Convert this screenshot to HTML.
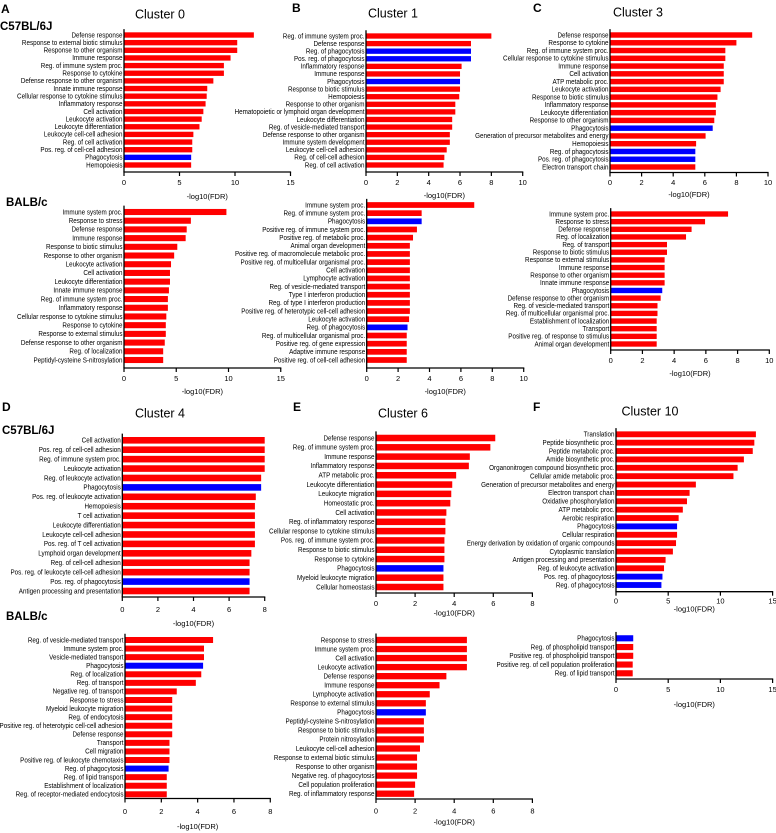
<!DOCTYPE html>
<html><head><meta charset="utf-8">
<style>
html,body{margin:0;padding:0;background:#fff;}
svg{display:block;}
text{font-family:"Liberation Sans Narrow","Liberation Sans",sans-serif;fill:#000;}
.lbl{font-size:7.5px;}
.tick{font-size:7.5px;}
.ttl{font-size:12.5px;font-family:"Liberation Sans",sans-serif;}
.pl{font-size:12px;font-weight:bold;font-family:"Liberation Sans",sans-serif;}
.strain{font-size:11.5px;font-weight:bold;font-family:"Liberation Sans",sans-serif;}
</style></head>
<body>
<svg id="fig" width="776" height="833" viewBox="0 0 776 833" xmlns="http://www.w3.org/2000/svg">
<text class="pl" x="1" y="10" dominant-baseline="middle">A</text>
<text class="ttl" x="160" y="15" text-anchor="middle" dominant-baseline="middle">Cluster 0</text>
<text class="strain" x="0" y="27" dominant-baseline="middle">C57BL/6J</text>
<text class="strain" x="6" y="203" dominant-baseline="middle">BALB/c</text>
<text class="pl" x="292" y="9" dominant-baseline="middle">B</text>
<text class="ttl" x="393" y="14" text-anchor="middle" dominant-baseline="middle">Cluster 1</text>
<text class="pl" x="533" y="9" dominant-baseline="middle">C</text>
<text class="ttl" x="638" y="13" text-anchor="middle" dominant-baseline="middle">Cluster 3</text>
<text class="pl" x="2" y="408" dominant-baseline="middle">D</text>
<text class="ttl" x="160" y="414" text-anchor="middle" dominant-baseline="middle">Cluster 4</text>
<text class="strain" x="2" y="431" dominant-baseline="middle">C57BL/6J</text>
<text class="strain" x="6" y="617" dominant-baseline="middle">BALB/c</text>
<text class="pl" x="293" y="408" dominant-baseline="middle">E</text>
<text class="ttl" x="403" y="414" text-anchor="middle" dominant-baseline="middle">Cluster 6</text>
<text class="pl" x="533" y="408" dominant-baseline="middle">F</text>
<text class="ttl" x="650" y="412" text-anchor="middle" dominant-baseline="middle">Cluster 10</text>
</svg>
<script>
// ---- Data ----
const a1Labels=["Defense response","Response to external biotic stimulus","Response to other organism","Immune response","Reg. of immune system proc.","Response to cytokine","Defense response to other organism","Innate immune response","Cellular response to cytokine stimulus","Inflammatory response","Cell activation","Leukocyte activation","Leukocyte differentiation","Leukocyte cell-cell adhesion","Reg. of cell activation","Pos. reg. of cell-cell adhesion","Phagocytosis","Hemopoiesis"];
const a1Values=[11.7,10.2,10.2,9.6,9.0,9.0,8.05,7.5,7.45,7.35,7.15,7.0,6.8,6.25,6.15,6.15,6.05,6.05];
const a1Blue=[16];
const a2Labels=["Immune system proc.","Response to stress","Defense response","Immune response","Response to biotic stimulus","Response to other organism","Leukocyte activation","Cell activation","Leukocyte differentiation","Innate immune response","Reg. of immune system proc.","Inflammatory response","Cellular response to cytokine stimulus","Response to cytokine","Response to external stimulus","Defense response to other organism","Reg. of localization","Peptidyl-cysteine S-nitrosylation"];
const a2Values=[9.8,6.4,6.0,5.9,5.1,4.8,4.5,4.4,4.4,4.3,4.2,4.2,4.05,4.0,4.0,3.9,3.75,3.75];
const a2Blue=[];
const b1Labels=["Reg. of immune system proc.","Defense response","Reg. of phagocytosis","Pos. reg. of phagocytosis","Inflammatory response","Immune response","Phagocytosis","Response to biotic stimulus","Hemopoiesis","Response to other organism","Hematopoietic or lymphoid organ development","Leukocyte differentiation","Reg. of vesicle-mediated transport","Defense response to other organism","Immune system development","Leukocyte cell-cell adhesion","Reg. of cell-cell adhesion","Reg. of cell activation"];
const b1Values=[8.0,6.7,6.7,6.7,6.1,6.0,6.0,6.0,5.95,5.7,5.7,5.5,5.5,5.35,5.35,5.15,5.0,4.95];
const b1Blue=[2,3,6];
const b2Labels=["Immune system proc.","Reg. of immune system proc.","Phagocytosis","Positive reg. of immune system proc.","Positive reg. of metabolic proc.","Animal organ development","Positive reg. of macromolecule metabolic proc.","Positive reg. of multicellular organismal proc.","Cell activation","Lymphocyte activation","Reg. of vesicle-mediated transport","Type I interferon production","Reg. of type I interferon production","Positive reg. of heterotypic cell-cell adhesion","Leukocyte activation","Reg. of phagocytosis","Reg. of multicellular organismal proc.","Positive reg. of gene expression","Adaptive immune response","Positive reg. of cell-cell adhesion"];
const b2Values=[6.85,3.5,3.5,3.2,2.95,2.75,2.75,2.75,2.75,2.75,2.75,2.75,2.75,2.75,2.7,2.6,2.55,2.55,2.55,2.55];
const b2Blue=[2,15];
const c1Labels=["Defense response","Response to cytokine","Reg. of immune system proc.","Cellular response to cytokine stimulus","Immune response","Cell activation","ATP metabolic proc.","Leukocyte activation","Response to biotic stimulus","Inflammatory response","Leukocyte differentiation","Response to other organism","Phagocytosis","Generation of precursor metabolites and energy","Hemopoiesis","Reg. of phagocytosis","Pos. reg. of phagocytosis","Electron transport chain"];
const c1Values=[9.0,8.0,7.3,7.3,7.2,7.2,7.2,7.0,6.8,6.7,6.7,6.6,6.5,6.05,5.45,5.4,5.4,5.4];
const c1Blue=[12,15,16];
const c2Labels=["Immune system proc.","Response to stress","Defense response","Reg. of localization","Reg. of transport","Response to biotic stimulus","Response to external stimulus","Immune response","Response to other organism","Innate immune response","Phagocytosis","Defense response to other organism","Reg. of vesicle-mediated transport","Reg. of multicellular organismal proc.","Establishment of localization","Transport","Positive reg. of response to stimulus","Animal organ development"];
const c2Values=[7.4,5.95,5.1,4.75,3.55,3.55,3.4,3.4,3.4,3.4,3.25,3.15,2.95,2.95,2.9,2.9,2.9,2.9];
const c2Blue=[10];
const d1Labels=["Cell activation","Pos. reg. of cell-cell adhesion","Reg. of immune system proc.","Leukocyte activation","Reg. of leukocyte activation","Phagocytosis","Pos. reg. of leukocyte activation","Hemopoiesis","T cell activation","Leukocyte differentiation","Leukocyte cell-cell adhesion","Pos. reg. of T cell activation","Lymphoid organ development","Reg. of cell-cell adhesion","Pos. reg. of leukocyte cell-cell adhesion","Pos. reg. of phagocytosis","Antigen processing and presentation"];
const d1Values=[8.0,8.0,8.0,8.0,7.8,7.8,7.5,7.45,7.45,7.45,7.45,7.45,7.25,7.15,7.15,7.15,7.15];
const d1Blue=[5,15];
const d2Labels=["Reg. of vesicle-mediated transport","Immune system proc.","Vesicle-mediated transport","Phagocytosis","Reg. of localization","Reg. of transport","Negative reg. of transport","Response to stress","Myeloid leukocyte migration","Reg. of endocytosis","Positive reg. of heterotypic cell-cell adhesion","Defense response","Transport","Cell migration","Positive reg. of leukocyte chemotaxis","Reg. of phagocytosis","Reg. of lipid transport","Establishment of localization","Reg. of receptor-mediated endocytosis"];
const d2Values=[4.85,4.35,4.35,4.3,4.2,3.9,2.85,2.6,2.6,2.6,2.6,2.6,2.45,2.45,2.45,2.4,2.3,2.3,2.3];
const d2Blue=[3,15];
const e1Labels=["Defense response","Reg. of immune system proc.","Immune response","Inflammatory response","ATP metabolic proc.","Leukocyte differentiation","Leukocyte migration","Homeostatic proc.","Cell activation","Reg. of inflammatory response","Cellular response to cytokine stimulus","Pos. reg. of immune system proc.","Response to biotic stimulus","Response to cytokine","Phagocytosis","Myeloid leukocyte migration","Cellular homeostasis"];
const e1Values=[6.1,5.85,4.8,4.75,4.1,3.9,3.85,3.8,3.6,3.55,3.55,3.5,3.5,3.5,3.45,3.45,3.45];
const e1Blue=[14];
const e2Labels=["Response to stress","Immune system proc.","Cell activation","Leukocyte activation","Defense response","Immune response","Lymphocyte activation","Response to external stimulus","Phagocytosis","Peptidyl-cysteine S-nitrosylation","Response to biotic stimulus","Protein nitrosylation","Leukocyte cell-cell adhesion","Response to external biotic stimulus","Response to other organism","Negative reg. of phagocytosis","Cell population proliferation","Reg. of inflammatory response"];
const e2Values=[4.65,4.65,4.65,4.65,3.6,3.25,2.75,2.55,2.55,2.45,2.45,2.45,2.25,2.1,2.1,2.1,2.0,1.95];
const e2Blue=[8];
const f1Labels=["Translation","Peptide biosynthetic proc.","Peptide metabolic proc.","Amide biosynthetic proc.","Organonitrogen compound biosynthetic proc.","Cellular amide metabolic proc.","Generation of precursor metabolites and energy","Electron transport chain","Oxidative phosphorylation","ATP metabolic proc.","Aerobic respiration","Phagocytosis","Cellular respiration","Energy derivation by oxidation of organic compounds","Cytoplasmic translation","Antigen processing and presentation","Reg. of leukocyte activation","Pos. reg. of phagocytosis","Reg. of phagocytosis"];
const f1Values=[13.4,13.25,13.1,12.25,11.65,11.25,7.65,7.05,6.8,6.4,6.0,5.85,5.85,5.75,5.45,4.75,4.6,4.45,4.35];
const f1Blue=[11,17,18];
const f2Labels=["Phagocytosis","Reg. of phospholipid transport","Positive reg. of phospholipid transport","Positive reg. of cell population proliferation","Reg. of lipid transport"];
const f2Values=[1.65,1.65,1.65,1.6,1.6];
const f2Blue=[0];
const ticks15=[0,5,10,15];
const ticks10=[0,2,4,6,8,10];
const ticks8=[0,2,4,6,8];

// ---- Layout (geometry only) ----
const charts=[
 {id:"cluster0-c57",labels:a1Labels,values:a1Values,blue:a1Blue,ticks:ticks15,x0:124,ppu:11.1,y1:35,yN:165,axisY:172,tlY:183,titleY:197},
 {id:"cluster0-balb",labels:a2Labels,values:a2Values,blue:a2Blue,ticks:ticks15,x0:124,ppu:10.45,y1:212,yN:360,axisY:368,tlY:379,titleY:392},
 {id:"cluster1-c57",labels:b1Labels,values:b1Values,blue:b1Blue,ticks:ticks10,x0:366,ppu:15.67,y1:36,yN:165,axisY:172,tlY:183,titleY:196},
 {id:"cluster1-balb",labels:b2Labels,values:b2Values,blue:b2Blue,ticks:ticks10,x0:366.7,ppu:15.7,y1:205,yN:360,axisY:368,tlY:379,titleY:392},
 {id:"cluster3-c57",labels:c1Labels,values:c1Values,blue:c1Blue,ticks:ticks10,x0:610,ppu:15.8,y1:35,yN:167,axisY:172.5,tlY:183,titleY:195},
 {id:"cluster3-balb",labels:c2Labels,values:c2Values,blue:c2Blue,ticks:ticks10,x0:610.7,ppu:15.86,y1:214,yN:344,axisY:350,tlY:361,titleY:374},
 {id:"cluster4-c57",labels:d1Labels,values:d1Values,blue:d1Blue,ticks:ticks8,x0:122.3,ppu:17.8,y1:440.3,yN:591,axisY:597,tlY:610,titleY:624},
 {id:"cluster4-balb",labels:d2Labels,values:d2Values,blue:d2Blue,ticks:ticks8,x0:125,ppu:18.16,y1:640,yN:794.3,axisY:798.5,tlY:812,titleY:827},
 {id:"cluster6-c57",labels:e1Labels,values:e1Values,blue:e1Blue,ticks:ticks8,x0:376,ppu:19.55,y1:438,yN:587,axisY:593,tlY:604,titleY:613.5},
 {id:"cluster6-balb",labels:e2Labels,values:e2Values,blue:e2Blue,ticks:ticks8,x0:376,ppu:19.55,y1:640,yN:793.7,axisY:799,tlY:811.5,titleY:822.5},
 {id:"cluster10-c57",labels:f1Labels,values:f1Values,blue:f1Blue,ticks:ticks15,x0:616,ppu:10.44,y1:434.3,yN:585,axisY:591.7,tlY:601.5,titleY:609.5},
 {id:"cluster10-balb",labels:f2Labels,values:f2Values,blue:f2Blue,ticks:ticks15,x0:616,ppu:10.44,y1:638.3,yN:673.3,axisY:679,tlY:690,titleY:705}
];
const NS="http://www.w3.org/2000/svg";
const svg=document.getElementById("fig");
function mk(tag,attrs,parent){const e=document.createElementNS(NS,tag);for(const k in attrs)e.setAttribute(k,attrs[k]);parent.appendChild(e);return e;}
charts.forEach(c=>{
  const g=mk("g",{},svg);
  
  
  const n=c.values.length;
  const pitch=n>1?(c.yN-c.y1)/(n-1):8.5;
  const bh=pitch*0.7;
  const xs=v=>c.x0+v*c.ppu;
  const ys=i=>c.y1+i*pitch;
  for(let i=0;i<n;i++){
    const r=mk("rect",{x:c.x0,y:ys(i)-bh/2,width:xs(c.values[i])-c.x0,height:bh,fill:c.blue.includes(i)?"#0000ff":"#ff0000"},g);
    
    
    const t=mk("text",{class:"lbl",x:0,y:0.3,"text-anchor":"end","dominant-baseline":"middle",transform:"translate("+(c.x0-1.5)+","+ys(i)+") scale(0.84,1)"},g);
    t.textContent=c.labels[i];
    
    
  }
  const top=c.y1-pitch/2-2;
  const yax=mk("line",{x1:c.x0,y1:top,x2:c.x0,y2:c.axisY,stroke:"#000","stroke-width":1.3},g);
  
  
  const maxT=c.ticks[c.ticks.length-1];
  const xax=mk("line",{x1:c.x0-0.6,y1:c.axisY,x2:xs(maxT)+0.6,y2:c.axisY,stroke:"#000","stroke-width":1.3},g);
  
  
  c.ticks.forEach(tv=>{
    const tk=mk("line",{x1:xs(tv),y1:c.axisY,x2:xs(tv),y2:c.axisY+4,stroke:"#000","stroke-width":1.2},g);
    
    
    const tl=mk("text",{class:"tick",x:xs(tv),y:c.tlY,"text-anchor":"middle","dominant-baseline":"middle"},g);
    tl.textContent=String(tv);
    
    
  });
  const at=mk("text",{class:"tick",x:(c.x0+xs(maxT))/2,y:c.titleY,"text-anchor":"middle","dominant-baseline":"middle"},g);
  at.textContent="-log10(FDR)";
  
  
});
</script>
</body></html>
